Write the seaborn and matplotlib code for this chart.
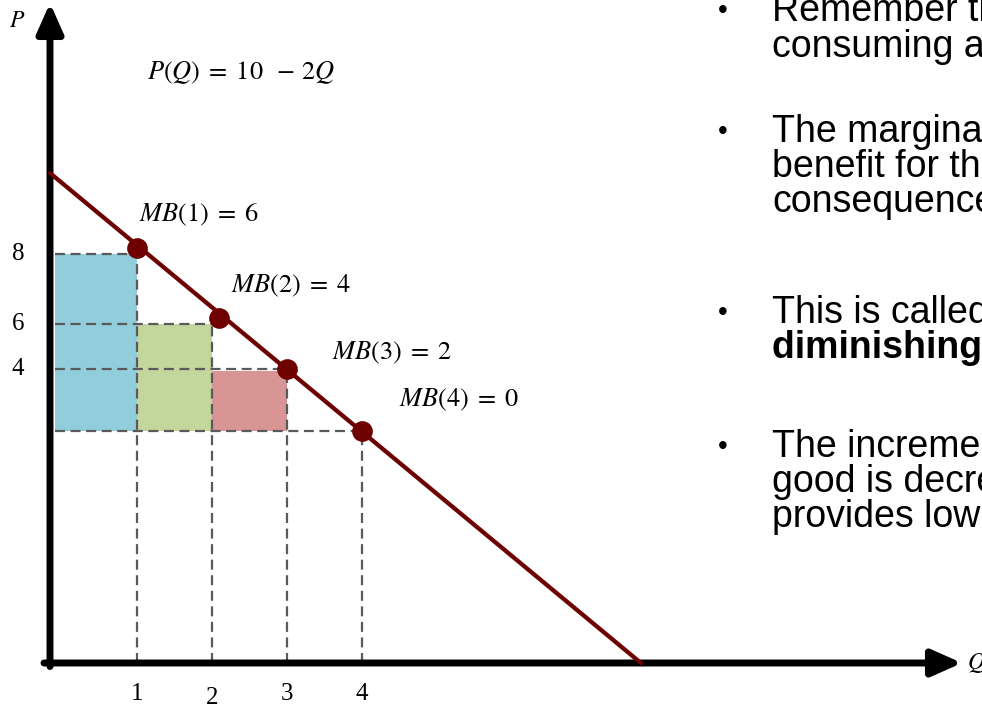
import matplotlib.pyplot as plt
import matplotlib.patheffects as pe
import seaborn as sns

# --- data (schematic units: Q along x, chart height along y) ---
quantities = [1, 2, 3, 4]
mb_values = [6, 4, 2, 0]
point_q = [1.0, 2.1, 3.0, 4.0]
point_h = [8.3, 6.9, 5.88, 4.64]
level_h = [8.18, 6.78, 5.88, 4.64]          # dashed guide heights
level_labels = ["8", "6", "4"]
bar_left = [-0.09, 1.0, 2.0]
bar_top = [8.18, 6.78, 5.84]
bar_colors = ["#92CDDC", "#C3D69B", "#D99594"]
demand_q = [-0.16, 7.72]
demand_p = [9.8, 0.0]

bullets = [
    ["Remember that the", "consuming a good"],
    ["The marginal", "benefit for the", "consequence"],
    ["This is called", "diminishing marginal"],
    ["The incremental", "good is decreasing", "provides lower"],
]

sns.set_theme(style="white")
plt.rcParams["mathtext.fontset"] = "stix"
plt.rcParams["text.color"] = "black"

fig = plt.figure(figsize=(9.82, 7.08), dpi=100)
ax = fig.add_axes([0, 0, 1, 1])
ax.set_xlim(-0.8267, 12.267)
ax.set_ylim(-0.9, 13.26)
ax.set_axis_off()

base = level_h[-1]
dash_kw = dict(color="#5a5a5a", lw=1.6, ls=(0, (4.5, 2.5)), zorder=3)

# shaded rectangles
ax.bar(bar_left, [t - base for t in bar_top], bottom=base,
       width=[quantities[0] - bar_left[0], 1, 1], align="edge",
       color=bar_colors, edgecolor="none", zorder=1)

# dashed guides
for q, h in zip(quantities, level_h):
    ax.hlines(h, bar_left[0], q, **dash_kw)
    ax.vlines(q, 0, h, **dash_kw)

# axes drawn as arrows
shadow = [pe.SimpleLineShadow(offset=(1.5, -1.5), alpha=0.25), pe.Normal()]
arrow_kw = dict(arrowstyle="-|>,head_length=0.9,head_width=0.4", lw=5,
                color="black", mutation_scale=20, shrinkA=0, shrinkB=0)
ax.annotate("", xy=(-0.16, 13.2), xytext=(-0.16, -0.07),
            arrowprops=arrow_kw, zorder=5)
ax.annotate("", xy=(12.0, 0), xytext=(-0.24, 0),
            arrowprops=arrow_kw, zorder=5)

# demand curve and points
sns.lineplot(x=demand_q, y=demand_p, ax=ax, color="#6E0000", lw=3,
             zorder=6, path_effects=shadow)
sns.scatterplot(x=point_q, y=point_h, ax=ax, color="#6E0000", s=190,
                edgecolor="#6E0000", zorder=7)

# labels
ax.text(-0.6, 12.86, "$P$", fontsize=17, ha="center", va="center")
ax.text(12.07, 0, "$Q$", fontsize=17, ha="left", va="center")
ax.text(1.13, 11.8, "$P(Q)\\;=\\;10\\;\\;-\\,2Q$", fontsize=19, va="center")
mb_pos = [(1.03, 8.96), (2.25, 7.54), (3.6, 6.2), (4.5, 5.26)]
for (x, y), q, v in zip(mb_pos, quantities, mb_values):
    ax.text(x, y, f"$MB({q})\\;=\\;{v}$", fontsize=19, va="center")
for h, lab in zip(level_h, level_labels):
    ax.text(-0.59, h, lab, fontsize=18, family="Liberation Serif",
            ha="center", va="center")
for q, dy in zip(quantities, [0, -0.08, 0, 0]):
    ax.text(q, -0.62 + dy, str(q), fontsize=18, family="Liberation Serif",
            ha="center", va="center")

# bullet text on the right (cut off by the slide crop)
line_y = [[13.04, 12.32], [10.62, 9.92, 9.22], [7.0, 6.3], [4.32, 3.62, 2.92]]
for lines, ys in zip(bullets, line_y):
    ax.text(8.75, ys[0], "•", fontsize=20, family="Liberation Sans",
            ha="left", va="center")
    for txt, y in zip(lines, ys):
        bold = txt.startswith("diminishing")
        ax.text(9.47, y, txt, fontsize=27, family="Liberation Sans",
                weight="bold" if bold else "normal", ha="left", va="center")

fig.savefig("out.png", dpi=100)
